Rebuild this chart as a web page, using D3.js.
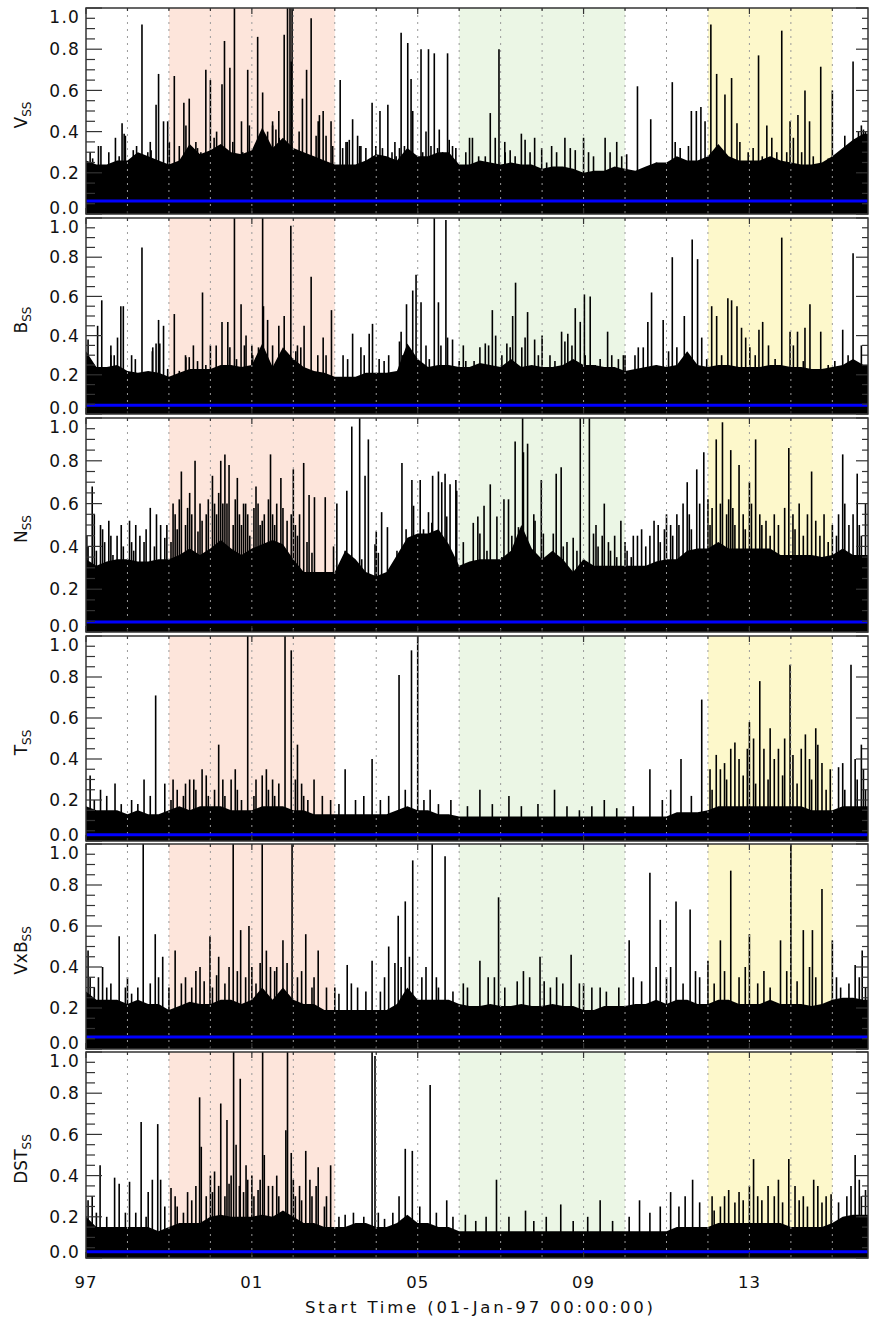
<!DOCTYPE html>
<html>
<head>
<meta charset="utf-8">
<script src="https://cdn.jsdelivr.net/npm/d3@7"></script>
<style>
body { margin: 0; background: #fff; }
text { font-family: "DejaVu Sans", sans-serif; fill: #111; }
</style>
</head>
<body>
<script>
const width = 870
const height = 1323

// time axis (decimal years)
const yearStart = 1997
const yearEnd = 2015.86
const yearLabels = ['97', '01', '05', '09', '13']
const yTicks = [0, 0.2, 0.4, 0.6, 0.8, 1.0]

// shaded phases [start, end]
const phaseRed = [1999, 2003]
const phaseGreen = [2006, 2010]
const phaseYellow = [2012, 2015]

// level of the blue line in each panel
const meanLevel = [0.063, 0.045, 0.047, 0.03, 0.058, 0.03]

// dense core of each series, one value every quarter year from 1997.0
const baseV = [0.26,0.24,0.24,0.26, 0.26,0.3,0.28,0.26, 0.24,0.26,0.34,0.29, 0.31,0.34,0.3,0.29,
  0.31,0.42,0.32,0.37, 0.32,0.3,0.28,0.26, 0.24,0.24,0.24,0.26, 0.29,0.28,0.26,0.32,
  0.28,0.28,0.3,0.3, 0.24,0.24,0.26,0.25, 0.24,0.25,0.24,0.24, 0.22,0.23,0.23,0.22,
  0.2,0.21,0.21,0.23, 0.22,0.21,0.23,0.25, 0.25,0.28,0.26,0.26, 0.28,0.34,0.28,0.26,
  0.26,0.26,0.28,0.26, 0.25,0.24,0.24,0.25, 0.28,0.32,0.36,0.39]
const baseB = [0.32,0.24,0.24,0.25, 0.22,0.21,0.22,0.21, 0.19,0.21,0.23,0.23, 0.23,0.25,0.25,0.24,
  0.25,0.36,0.24,0.34, 0.28,0.24,0.22,0.21, 0.19,0.19,0.19,0.21, 0.21,0.21,0.22,0.36,
  0.28,0.24,0.25,0.25, 0.24,0.24,0.26,0.25, 0.24,0.28,0.24,0.25, 0.24,0.24,0.25,0.28,
  0.25,0.25,0.24,0.24, 0.22,0.23,0.24,0.25, 0.24,0.25,0.32,0.25, 0.24,0.25,0.25,0.24,
  0.24,0.24,0.25,0.25, 0.24,0.24,0.23,0.23, 0.24,0.25,0.28,0.25]
const baseN = [0.34,0.31,0.33,0.34, 0.34,0.33,0.33,0.34, 0.34,0.36,0.39,0.36, 0.39,0.43,0.39,0.36,
  0.39,0.41,0.43,0.41, 0.34,0.28,0.28,0.28, 0.28,0.38,0.34,0.28, 0.26,0.28,0.36,0.44,
  0.46,0.46,0.48,0.41, 0.31,0.33,0.34,0.34, 0.34,0.38,0.5,0.39, 0.34,0.38,0.34,0.28,
  0.34,0.31,0.31,0.31, 0.31,0.31,0.31,0.33, 0.34,0.34,0.38,0.39, 0.39,0.42,0.39,0.39,
  0.39,0.39,0.39,0.36, 0.36,0.36,0.36,0.35, 0.36,0.39,0.36,0.36]
const baseT = [0.17,0.15,0.15,0.15, 0.13,0.15,0.13,0.13, 0.15,0.17,0.15,0.17, 0.17,0.17,0.15,0.15,
  0.15,0.17,0.17,0.17, 0.15,0.15,0.13,0.13, 0.13,0.13,0.13,0.13, 0.13,0.13,0.15,0.17,
  0.15,0.15,0.13,0.13, 0.12,0.12,0.12,0.12, 0.12,0.12,0.12,0.12, 0.12,0.12,0.12,0.12,
  0.12,0.12,0.12,0.12, 0.12,0.12,0.12,0.12, 0.12,0.14,0.14,0.14, 0.15,0.17,0.17,0.17,
  0.17,0.17,0.17,0.17, 0.17,0.17,0.15,0.15, 0.15,0.17,0.17,0.17]
const baseVxB = [0.28,0.24,0.24,0.24, 0.22,0.24,0.22,0.22, 0.19,0.21,0.23,0.22, 0.22,0.24,0.24,0.22,
  0.24,0.3,0.24,0.3, 0.24,0.22,0.22,0.19, 0.19,0.19,0.19,0.19, 0.19,0.19,0.22,0.3,
  0.24,0.24,0.24,0.24, 0.22,0.21,0.21,0.22, 0.21,0.21,0.22,0.21, 0.21,0.22,0.21,0.21,
  0.19,0.19,0.21,0.21, 0.21,0.22,0.22,0.24, 0.22,0.24,0.24,0.22, 0.22,0.24,0.24,0.22,
  0.22,0.22,0.24,0.22, 0.22,0.22,0.21,0.22, 0.24,0.25,0.25,0.24]
const baseDST = [0.2,0.15,0.15,0.15, 0.15,0.15,0.15,0.13, 0.15,0.17,0.17,0.17, 0.2,0.21,0.2,0.2,
  0.2,0.21,0.2,0.23, 0.2,0.17,0.17,0.15, 0.15,0.15,0.17,0.17, 0.15,0.15,0.17,0.21,
  0.17,0.17,0.15,0.15, 0.13,0.13,0.13,0.13, 0.13,0.13,0.13,0.13, 0.13,0.13,0.13,0.13,
  0.13,0.13,0.13,0.13, 0.13,0.13,0.13,0.13, 0.13,0.15,0.15,0.15, 0.15,0.17,0.17,0.17,
  0.17,0.17,0.17,0.17, 0.15,0.15,0.15,0.15, 0.17,0.2,0.21,0.21]

// tall spikes [year, value]
const spikesV = [[1997.1,0.3],[1997.3,0.33],[1997.55,0.3],[1997.87,0.44],[1997.95,0.38],[1998.35,0.92],
  [1998.55,0.35],[1998.69,0.53],[1998.75,0.68],[1998.87,0.45],[1999.13,0.67],[1999.36,0.54],[1999.49,0.56],
  [1999.65,0.35],[1999.89,0.70],[2000.0,0.65],[2000.15,0.4],[2000.28,0.63],[2000.34,0.84],[2000.47,0.71],
  [2000.58,1.0],[2000.75,0.45],[2000.9,0.70],[2001.14,0.86],[2001.26,0.59],[2001.5,0.45],[2001.65,0.5],
  [2001.78,0.87],[2001.86,1.0],[2001.92,1.0],[2001.95,0.74],[2001.97,1.0],[2002.22,0.56],[2002.32,0.70],
  [2002.43,0.95],[2002.6,0.45],[2002.72,0.5],[2002.91,0.45],[2003.13,0.65],[2003.3,0.35],[2003.43,0.46],
  [2003.6,0.33],[2003.9,0.54],[2004.09,0.5],[2004.28,0.53],[2004.45,0.35],[2004.6,0.88],[2004.76,0.83],
  [2004.84,0.655],[2004.88,0.5],[2005.08,0.80],[2005.26,0.80],[2005.4,0.78],[2005.52,0.41],[2005.72,0.78],
  [2005.76,0.36],[2006.25,0.37],[2006.75,0.49],[2006.96,0.80],[2007.1,0.35],[2007.5,0.39],[2007.82,0.37],
  [2008.55,0.37],[2009.0,0.37],[2009.52,0.37],[2009.8,0.35],[2010.3,0.62],[2010.62,0.46],[2011.14,0.64],
  [2011.6,0.5],[2011.72,0.5],[2011.83,0.52],[2011.93,0.45],[2012.07,0.92],[2012.21,0.68],[2012.41,0.58],
  [2012.57,0.66],[2012.7,0.44],[2013.22,0.77],[2013.42,0.43],[2013.78,0.89],[2013.98,0.45],[2014.17,0.48],
  [2014.34,0.60],[2014.45,0.45],[2014.72,0.715],[2015.0,0.60],[2015.3,0.38],[2015.5,0.74],[2015.7,0.43],[2015.8,0.4]]
const spikesB = [[1997.05,0.38],[1997.28,0.45],[1997.38,0.58],[1997.6,0.3],[1997.76,0.39],[1997.84,0.55],
  [1997.9,0.55],[1998.1,0.3],[1998.35,0.85],[1998.6,0.32],[1998.69,0.36],[1998.75,0.48],[1998.87,0.45],
  [1999.13,0.51],[1999.4,0.3],[1999.59,0.35],[1999.81,0.62],[2000.0,0.35],[2000.28,0.47],[2000.42,0.47],
  [2000.58,1.0],[2000.74,0.56],[2000.86,0.4],[2001.0,0.35],[2001.26,1.0],[2001.28,0.55],[2001.5,0.35],
  [2001.78,0.5],[2001.94,0.96],[2002.1,0.35],[2002.26,0.45],[2002.43,0.70],[2002.72,0.39],[2002.92,0.53],
  [2003.2,0.3],[2003.43,0.41],[2003.83,0.41],[2003.91,0.46],[2004.3,0.3],[2004.6,0.42],[2004.73,0.56],
  [2004.88,0.63],[2004.96,0.71],[2005.08,0.57],[2005.4,1.0],[2005.5,0.57],[2005.68,0.99],[2005.72,0.39],
  [2005.84,0.38],[2006.1,0.35],[2006.63,0.36],[2006.8,0.53],[2006.88,0.4],[2007.15,0.36],[2007.29,0.5],
  [2007.36,0.67],[2007.65,0.52],[2007.82,0.38],[2008.0,0.4],[2008.47,0.42],[2008.62,0.41],[2008.8,0.54],
  [2008.92,0.47],[2009.02,0.61],[2009.16,0.60],[2009.58,0.42],[2010.0,0.3],[2010.32,0.34],[2010.55,0.47],
  [2010.64,0.62],[2010.92,0.48],[2011.14,0.80],[2011.43,0.5],[2011.62,0.89],[2011.75,0.79],[2012.09,0.55],
  [2012.21,0.5],[2012.48,0.59],[2012.57,0.58],[2012.7,0.55],[2012.91,0.39],[2013.23,0.43],[2013.32,0.47],
  [2013.78,0.90],[2013.98,0.42],[2014.16,0.42],[2014.34,0.44],[2014.46,0.56],[2014.72,0.42],[2015.25,0.43],
  [2015.5,0.82],[2015.7,0.35]]
const spikesN = [[1997.15,0.68],[1997.35,0.5],[1997.55,0.52],[1997.75,0.45],[1998.05,0.52],[1998.3,0.45],
  [1998.55,0.58],[1998.8,0.5],[1999.1,0.6],[1999.3,0.75],[1999.5,0.65],[1999.63,0.8],[1999.9,0.55],
  [2000.05,0.73],[2000.25,0.8],[2000.35,0.83],[2000.45,0.78],[2000.65,0.72],[2000.85,0.6],[2001.1,0.68],
  [2001.45,0.83],[2001.7,0.72],[2002.0,0.76],[2002.25,0.79],[2002.38,0.64],[2002.51,0.63],[2002.77,0.63],
  [2003.05,0.6],[2003.29,0.66],[2003.41,0.96],[2003.6,1.0],[2003.73,0.73],[2003.81,0.9],[2004.0,0.47],
  [2004.13,0.56],[2004.27,0.49],[2004.62,0.79],[2004.72,0.48],[2004.86,0.71],[2005.06,0.71],[2005.36,0.73],
  [2005.5,0.75],[2005.66,0.74],[2005.78,0.69],[2005.92,0.71],[2006.34,0.51],[2006.45,0.54],[2006.6,0.59],
  [2006.75,0.69],[2007.08,0.62],[2007.19,0.62],[2007.35,0.89],[2007.53,1.0],[2007.55,0.84],[2007.65,0.88],[2007.8,0.55],
  [2007.98,0.71],[2008.34,0.74],[2008.46,0.77],[2008.75,0.44],[2008.92,1.0],[2009.14,1.0],[2009.24,0.46],
  [2009.5,0.6],[2009.9,0.52],[2010.3,0.45],[2010.7,0.52],[2011.0,0.55],[2011.5,0.7],[2011.73,0.76],
  [2011.9,0.84],[2012.2,0.9],[2012.35,0.98],[2012.55,0.85],[2012.75,0.78],[2013.0,0.7],[2013.15,0.9],
  [2013.95,0.86],[2014.5,0.75],[2015.25,0.83],[2015.6,0.74],[2015.8,0.6]]
const spikesT = [[1997.1,0.32],[1997.35,0.25],[1997.7,0.28],[1998.4,0.3],[1998.68,0.71],[1998.9,0.28],
  [1999.2,0.25],[1999.5,0.3],[1999.8,0.35],[2000.2,0.47],[2000.5,0.3],[2000.9,1.0],[2001.25,0.32],
  [2001.8,1.0],[2001.95,0.93],[2002.1,0.47],[2002.5,0.3],[2003.25,0.35],[2003.9,0.4],[2004.55,0.81],
  [2004.85,0.93],[2005.0,1.0],[2005.3,0.25],[2006.5,0.25],[2007.2,0.22],[2008.3,0.25],[2009.5,0.2],
  [2010.6,0.35],[2011.35,0.4],[2011.85,0.69],[2012.3,0.35],[2012.65,0.48],[2013.0,0.58],[2013.25,0.78],
  [2013.6,0.4],[2013.98,0.86],[2014.35,0.52],[2014.65,0.47],[2015.15,0.36],[2015.45,0.86],[2015.7,0.47]]
const spikesVxB = [[1997.05,0.48],[1997.4,0.4],[1997.8,0.55],[1998.38,1.0],[1998.67,0.56],[1998.85,0.45],
  [1999.15,0.48],[1999.75,0.4],[1999.99,0.55],[2000.2,0.45],[2000.55,1.0],[2000.73,0.58],[2000.93,0.6],
  [2001.25,1.0],[2001.35,0.48],[2001.75,0.53],[2001.97,1.0],[2002.3,0.56],[2002.6,0.48],[2003.3,0.41],
  [2003.9,0.43],[2004.3,0.5],[2004.53,0.65],[2004.7,0.72],[2004.88,0.92],[2005.35,1.0],[2005.66,0.94],
  [2006.5,0.43],[2006.95,0.74],[2007.95,0.45],[2008.7,0.46],[2010.1,0.53],[2010.6,0.86],[2010.85,0.63],
  [2011.23,0.72],[2011.57,0.68],[2012.0,0.43],[2012.3,0.53],[2012.55,0.87],[2013.0,0.56],[2013.75,0.53],
  [2014.0,1.0],[2014.3,0.58],[2014.52,0.58],[2014.75,0.78],[2015.0,0.53],[2015.55,0.41],[2015.72,0.48]]
const spikesDST = [[1997.15,0.3],[1997.34,0.45],[1997.69,0.39],[1997.8,0.36],[1998.05,0.37],[1998.33,0.66],
  [1998.5,0.32],[1998.6,0.38],[1998.73,0.65],[1998.8,0.38],[1999.05,0.34],[1999.74,0.78],[1999.78,0.54],
  [2000.1,0.42],[2000.25,0.75],[2000.4,0.67],[2000.45,0.36],[2000.56,1.0],[2000.62,0.55],[2000.72,0.87],
  [2000.86,0.45],[2000.9,0.38],[2001.26,1.0],[2001.3,0.5],[2001.82,0.62],[2001.86,1.0],[2001.95,0.51],
  [2002.3,0.52],[2002.6,0.44],[2002.9,0.45],[2003.25,0.21],[2003.9,1.0],[2003.97,0.98],[2004.2,0.19],
  [2004.7,0.53],[2004.87,0.52],[2005.3,0.84],[2005.7,0.28],[2006.15,0.21],[2006.9,0.38],[2007.6,0.23],
  [2008.45,0.26],[2009.4,0.28],[2010.35,0.28],[2011.1,0.32],[2011.45,0.3],[2011.63,0.38],[2012.15,0.23],
  [2012.5,0.33],[2012.85,0.28],[2013.1,0.48],[2013.95,0.48],[2014.55,0.38],[2014.97,0.31],[2015.55,0.5],
  [2015.8,0.33]]

// shorter lines rising out of the dense core [year, value]
const grassV = [[1997.16,0.27],[1997.36,0.33],[1997.48,0.22],[1997.58,0.24],[1997.71,0.37],[1997.8,0.28],
  [1997.92,0.39],[1998.04,0.25],[1998.14,0.31],[1998.22,0.33],[1998.49,0.3],[1998.57,0.31],[1998.97,0.45],
  [1999.01,0.35],[1999.25,0.33],[1999.41,0.43],[1999.57,0.3],[1999.69,0.32],[1999.77,0.3],[2000.09,0.37],
  [2000.18,0.33],[2000.54,0.35],[2000.66,0.29],[2000.78,0.3],[2000.94,0.43],[2001.06,0.29],[2001.18,0.33],
  [2001.38,0.4],[2001.5,0.43],[2001.58,0.41],[2001.66,0.37],[2002.02,0.3],[2002.14,0.4],[2002.55,0.38],
  [2002.63,0.48],[2002.79,0.38],[2002.95,0.33],[2003.19,0.32],[2003.27,0.35],[2003.35,0.36],[2003.55,0.38],
  [2003.63,0.33],[2003.75,0.32],[2003.99,0.33],[2004.15,0.32],[2004.38,0.3],[2004.48,0.28],[2004.56,0.32],
  [2004.68,0.33],[2005.12,0.3],[2005.2,0.4],[2005.32,0.33],[2005.48,0.32],[2005.6,0.3],[2005.84,0.33],
  [2005.92,0.32],[2006.16,0.3],[2006.32,0.37],[2006.47,0.28],[2006.63,0.28],[2006.87,0.37],[2007.11,0.3],
  [2007.23,0.31],[2007.35,0.28],[2007.59,0.36],[2007.71,0.3],[2007.99,0.32],[2008.11,0.25],[2008.23,0.33],
  [2008.35,0.3],[2008.68,0.32],[2008.8,0.31],[2009.12,0.3],[2009.24,0.28],[2009.64,0.3],[2009.92,0.28],
  [2010.04,0.29],[2010.44,0.22],[2010.76,0.25],[2011.0,0.24],[2011.21,0.35],[2011.33,0.32],[2011.53,0.33],
  [2012.01,0.22],[2012.33,0.3],[2012.77,0.35],[2012.97,0.3],[2013.09,0.32],[2013.31,0.28],[2013.54,0.37],
  [2013.66,0.3],[2013.9,0.3],[2014.06,0.37],[2014.26,0.3],[2014.54,0.28],[2014.9,0.27],[2015.22,0.3],
  [2015.38,0.32],[2015.63,0.4],[2015.75,0.41]]
const grassB = [[1997.16,0.25],[1997.48,0.23],[1997.6,0.35],[1997.68,0.3],[1998.05,0.21],[1998.19,0.28],
  [1998.49,0.2],[1998.61,0.34],[1998.78,0.36],[1998.97,0.23],[1999.25,0.22],[1999.41,0.29],[1999.49,0.29],
  [1999.69,0.27],[1999.89,0.25],[2000.14,0.35],[2000.47,0.34],[2000.63,0.28],[2000.82,0.35],[2001.02,0.3],
  [2001.16,0.34],[2001.38,0.48],[2001.65,0.45],[2002.06,0.32],[2002.18,0.34],[2002.59,0.3],[2002.79,0.3],
  [2003.31,0.28],[2003.63,0.34],[2003.71,0.3],[2004.07,0.28],[2004.19,0.27],[2004.56,0.37],[2004.64,0.3],
  [2005.2,0.35],[2005.28,0.28],[2005.56,0.35],[2006.0,0.27],[2006.16,0.27],[2006.36,0.27],[2006.5,0.34],
  [2006.71,0.35],[2007.03,0.3],[2007.23,0.34],[2007.51,0.34],[2007.59,0.39],[2007.91,0.3],[2008.19,0.3],
  [2008.31,0.27],[2008.55,0.37],[2008.72,0.35],[2009.04,0.3],[2009.28,0.25],[2009.4,0.28],[2009.68,0.3],
  [2009.84,0.28],[2009.96,0.3],[2010.24,0.3],[2010.44,0.34],[2010.76,0.25],[2011.05,0.32],[2011.25,0.34],
  [2011.53,0.27],[2011.85,0.39],[2011.97,0.28],[2012.33,0.3],[2012.81,0.44],[2013.01,0.34],[2013.14,0.3],
  [2013.46,0.35],[2013.62,0.28],[2013.9,0.23],[2014.06,0.35],[2014.3,0.27],[2014.54,0.2],[2014.78,0.23],
  [2014.9,0.25],[2015.06,0.27],[2015.22,0.23],[2015.38,0.3],[2015.63,0.23],[2015.75,0.25]]
const grassN = [[1997.05,0.4],[1997.25,0.38],[1997.45,0.42],[1997.65,0.36],[1997.9,0.4],[1998.15,0.38],
  [1998.4,0.42],[1998.65,0.4],[1998.9,0.44],[1999.05,0.42],[1999.2,0.48],[1999.4,0.5],[1999.7,0.47],
  [1999.8,0.52],[2000.15,0.55],[2000.55,0.5],[2000.75,0.5],[2000.95,0.45],[2001.2,0.5],[2001.3,0.55],
  [2001.55,0.5],[2001.85,0.52],[2002.1,0.45],[2002.33,0.42],[2002.45,0.37],[2002.61,0.24],[2002.69,0.23],
  [2002.97,0.4],[2003.13,0.28],[2003.25,0.38],[2003.49,0.31],[2003.65,0.34],[2003.97,0.41],[2004.05,0.37],
  [2004.38,0.22],[2004.5,0.38],[2004.74,0.32],[2004.9,0.59],[2005.14,0.48],[2005.26,0.56],[2005.34,0.51],
  [2005.58,0.7],[2005.7,0.54],[2005.94,0.66],[2006.1,0.42],[2006.3,0.32],[2006.5,0.46],[2006.67,0.38],
  [2006.91,0.54],[2007.03,0.35],[2007.27,0.45],[2007.43,0.49],[2007.83,0.52],[2008.03,0.46],[2008.15,0.31],
  [2008.27,0.46],[2008.51,0.4],[2008.6,0.42],[2008.72,0.24],[2008.84,0.38],[2009.0,0.34],[2009.35,0.4],
  [2009.65,0.38],[2009.8,0.35],[2010.05,0.38],[2010.15,0.35],[2010.5,0.4],[2010.85,0.42],[2011.15,0.45],
  [2011.3,0.5],[2011.6,0.48],[2012.05,0.5],[2012.45,0.55],[2012.65,0.5],[2012.9,0.48],[2013.3,0.5],
  [2013.5,0.45],[2013.7,0.5],[2014.1,0.48],[2014.3,0.45],[2014.7,0.45],[2014.9,0.42],[2015.1,0.45],
  [2015.4,0.5],[2015.7,0.45],
  [1997.02,0.45],[1997.2,0.55],[1997.4,0.48],[1997.6,0.45],[1997.85,0.5],[1998.1,0.42],[1998.2,0.5],
  [1998.45,0.48],[1998.7,0.55],[1998.95,0.5],[1999.15,0.55],[1999.25,0.62],[1999.45,0.58],[1999.55,0.55],
  [1999.75,0.6],[1999.95,0.62],[2000.1,0.6],[2000.2,0.65],[2000.3,0.6],[2000.4,0.6],[2000.6,0.62],
  [2000.7,0.55],[2000.8,0.6],[2000.9,0.55],[2001.05,0.58],[2001.15,0.6],[2001.25,0.52],[2001.4,0.62],
  [2001.5,0.55],[2001.6,0.6],[2001.75,0.58],[2001.95,0.55],[2002.05,0.5],[2002.15,0.55],
  [2009.3,0.5],[2009.45,0.45],[2009.6,0.42],[2009.75,0.45],[2010.0,0.42],[2010.2,0.45],[2010.4,0.48],
  [2010.6,0.45],[2010.8,0.5],[2010.95,0.48],[2011.1,0.5],[2011.25,0.55],[2011.4,0.6],[2011.55,0.55],
  [2011.8,0.6],[2012.0,0.62],[2012.1,0.58],[2012.3,0.6],[2012.5,0.62],[2012.6,0.58],[2012.85,0.55],
  [2013.05,0.6],[2013.25,0.55],[2013.4,0.52],[2013.6,0.55],[2013.85,0.58],[2014.05,0.55],[2014.2,0.6],
  [2014.4,0.55],[2014.6,0.52],[2014.8,0.55],[2015.0,0.5],[2015.15,0.55],[2015.3,0.6],[2015.5,0.55],[2015.65,0.5]]
const grassT = [[1997.2,0.2],[1997.5,0.22],[1997.85,0.18],[1998.1,0.2],[1998.25,0.18],[1998.55,0.22],
  [1999.05,0.2],[1999.35,0.22],[1999.65,0.25],[1999.95,0.22],[2000.1,0.25],[2000.35,0.22],[2000.65,0.25],
  [2000.75,0.2],[2001.05,0.22],[2001.4,0.25],[2001.55,0.22],[2001.65,0.28],[2002.25,0.22],[2002.35,0.2],
  [2002.7,0.22],[2002.9,0.2],[2003.1,0.18],[2003.5,0.2],[2003.7,0.22],[2004.1,0.2],[2004.3,0.22],
  [2004.7,0.25],[2005.15,0.2],[2005.5,0.18],[2005.8,0.2],[2006.2,0.17],[2006.8,0.18],[2007.5,0.17],
  [2007.9,0.18],[2008.6,0.17],[2008.9,0.15],[2009.2,0.17],[2009.8,0.16],[2010.2,0.17],[2010.9,0.2],
  [2011.1,0.25],[2011.6,0.22],[2012.1,0.25],[2012.45,0.3],[2012.85,0.32],[2013.15,0.28],[2013.45,0.3],
  [2013.8,0.32],[2014.15,0.28],[2014.5,0.3],[2014.85,0.25],[2015.3,0.25],[2015.6,0.3],[2015.8,0.25],
  [1999.1,0.3],[1999.4,0.28],[1999.6,0.3],[1999.9,0.32],[2000.3,0.3],[2000.6,0.35],[2001.1,0.3],
  [2001.35,0.35],[2001.5,0.3],[2002.05,0.3],[2002.2,0.28],[2012.05,0.35],[2012.2,0.42],[2012.4,0.38],
  [2012.55,0.45],[2012.75,0.4],[2012.95,0.45],[2013.1,0.5],[2013.35,0.45],[2013.5,0.55],[2013.7,0.45],
  [2013.85,0.5],[2014.05,0.42],[2014.25,0.45],[2014.45,0.4],[2014.6,0.55],[2014.75,0.38],[2014.95,0.35],
  [2015.25,0.38],[2015.55,0.4],[2015.75,0.35]]
const grassVxB = [[1997.2,0.3],[1997.3,0.35],[1997.6,0.32],[1997.95,0.3],[1998.1,0.27],[1998.25,0.3],
  [1998.55,0.32],[1999.0,0.3],[1999.3,0.32],[1999.55,0.3],[1999.85,0.33],[2000.05,0.3],[2000.35,0.32],
  [2000.85,0.35],[2001.1,0.32],[2001.45,0.4],[2001.6,0.4],[2002.1,0.35],[2002.45,0.3],[2002.8,0.3],
  [2003.1,0.27],[2003.55,0.3],[2003.75,0.28],[2004.1,0.28],[2004.6,0.4],[2004.8,0.45],[2005.1,0.35],
  [2005.5,0.3],[2005.85,0.28],[2006.2,0.3],[2006.7,0.35],[2007.1,0.3],[2007.4,0.33],[2007.7,0.35],
  [2008.2,0.3],[2008.5,0.32],[2008.9,0.32],[2009.2,0.3],[2009.55,0.28],[2009.85,0.3],[2010.4,0.33],
  [2011.0,0.35],[2011.4,0.32],[2011.8,0.35],[2012.15,0.32],[2012.75,0.35],[2013.2,0.32],[2013.5,0.3],
  [2014.15,0.33],[2014.6,0.35],[2015.2,0.3],[2015.4,0.32],[2015.65,0.35],[2015.8,0.3],
  [1997.1,0.35],[1997.5,0.3],[1998.0,0.35],[1998.75,0.35],[1999.4,0.35],[1999.65,0.38],[2000.15,0.36],
  [2000.45,0.4],[2000.65,0.38],[2001.0,0.4],[2001.2,0.42],[2001.55,0.38],[2001.85,0.42],[2002.2,0.38],
  [2002.5,0.35],[2003.0,0.3],[2003.4,0.32],[2004.2,0.35],[2004.45,0.42],[2005.2,0.4],[2005.45,0.35],
  [2006.1,0.32],[2006.85,0.35],[2007.55,0.38],[2008.05,0.33],[2008.35,0.35],[2009.0,0.32],[2009.4,0.3],
  [2010.2,0.35],[2010.75,0.4],[2011.1,0.4],[2011.7,0.38],[2012.4,0.38],[2012.9,0.4],[2013.35,0.38],
  [2013.9,0.38],[2014.45,0.4],[2015.1,0.35]]
const grassDST = [[1997.05,0.28],[1997.25,0.22],[1997.5,0.2],[1997.95,0.22],[1998.2,0.22],[1998.45,0.2],
  [1998.9,0.25],[1999.2,0.25],[1999.35,0.22],[1999.55,0.28],[1999.9,0.3],[2000.05,0.32],[2000.35,0.3],
  [2000.8,0.32],[2001.05,0.3],[2001.15,0.33],[2001.5,0.35],[2001.65,0.3],[2002.05,0.3],[2002.2,0.28],
  [2002.45,0.3],[2002.75,0.25],[2003.1,0.2],[2003.45,0.22],[2003.7,0.2],[2004.05,0.22],[2004.4,0.22],
  [2004.55,0.3],[2005.05,0.25],[2005.45,0.22],[2005.85,0.2],[2006.4,0.18],[2006.65,0.2],[2007.2,0.2],
  [2007.8,0.18],[2008.1,0.2],[2008.75,0.18],[2009.1,0.2],[2009.7,0.18],[2010.1,0.2],[2010.6,0.22],
  [2010.85,0.25],[2011.3,0.25],[2011.8,0.27],[2012.3,0.25],[2012.65,0.27],[2013.3,0.28],[2013.6,0.3],
  [2013.8,0.27],[2014.2,0.28],[2014.4,0.25],[2014.75,0.27],[2015.15,0.27],[2015.35,0.3],[2015.7,0.3],
  [1999.15,0.3],[1999.45,0.32],[1999.65,0.35],[2000.0,0.4],[2000.2,0.35],[2000.5,0.4],[2000.7,0.35],
  [2001.0,0.4],[2001.2,0.38],[2001.4,0.35],[2001.6,0.4],[2002.0,0.38],[2002.15,0.35],[2002.4,0.38],
  [2002.55,0.35],[2002.8,0.3],[2012.1,0.3],[2012.4,0.3],[2012.75,0.32],[2013.0,0.35],[2013.2,0.3],
  [2013.45,0.35],[2013.7,0.38],[2014.1,0.35],[2014.3,0.3],[2014.65,0.35],[2014.85,0.3],[2015.45,0.35],
  [2015.65,0.38]]

const colors = {
    red: '#fde5db',
    green: '#ebf6e5',
    yellow: '#fdf8cb',
    data: '#000',
    mean: '#0000ff',
    grid: '#9a9a9a',
    frame: '#333'
}

const panels = [
    {name: 'V', base: baseV, spikes: spikesV.concat(grassV), top: 8, bottom: 214},
    {name: 'B', base: baseB, spikes: spikesB.concat(grassB), top: 218, bottom: 414},
    {name: 'N', base: baseN, spikes: spikesN.concat(grassN), top: 418, bottom: 632},
    {name: 'T', base: baseT, spikes: spikesT.concat(grassT), top: 636, bottom: 841},
    {name: 'VxB', base: baseVxB, spikes: spikesVxB.concat(grassVxB), top: 844, bottom: 1049},
    {name: 'DST', base: baseDST, spikes: spikesDST.concat(grassDST), top: 1052, bottom: 1258}
]

const svg = d3.select('body')
    .append('svg')
    .attr('width', width)
    .attr('height', height)

const x = d3.scaleLinear().domain([yearStart, yearEnd]).range([86, 868])
const years = d3.range(1998, 2016)
const allYears = d3.range(1997, 2016)
const phases = [[phaseRed, colors.red], [phaseGreen, colors.green], [phaseYellow, colors.yellow]]

panels.forEach((p, i) => {
    const y = d3.scaleLinear().domain([0, 1]).range([p.bottom, p.top])
    const g = svg.append('g')

    g.append('clipPath').attr('id', 'clip' + i)
        .append('rect')
        .attr('x', x(yearStart)).attr('y', p.top)
        .attr('width', x(yearEnd) - x(yearStart)).attr('height', p.bottom - p.top)

    const plot = g.append('g').attr('clip-path', `url(#clip${i})`)

    plot.selectAll('.phase')
        .data(phases)
        .enter().append('rect')
        .attr('x', d => x(d[0][0]))
        .attr('width', d => x(d[0][1]) - x(d[0][0]))
        .attr('y', p.top)
        .attr('height', p.bottom - p.top)
        .attr('fill', d => d[1])

    const basePts = p.base.map((v, k) => [yearStart + k / 4, v])
    basePts.push([yearEnd, p.base[p.base.length - 1]])

    const area = d3.area()
        .x(d => x(d[0]))
        .y0(y(0) + 2)
        .y1(d => y(d[1]))

    plot.append('path')
        .datum(basePts)
        .attr('d', area)
        .attr('fill', colors.data)

    plot.selectAll('.spike')
        .data(p.spikes)
        .enter().append('line')
        .attr('x1', d => x(d[0])).attr('x2', d => x(d[0]))
        .attr('y1', y(0) + 2).attr('y2', d => y(d[1]))
        .attr('stroke', colors.data)
        .attr('stroke-width', 1.6)

    // dotted year lines on top of the data
    plot.selectAll('.grid')
        .data(years)
        .enter().append('line')
        .attr('x1', d => x(d)).attr('x2', d => x(d))
        .attr('y1', p.top).attr('y2', p.bottom)
        .attr('stroke', colors.grid)
        .attr('stroke-width', 1)
        .attr('stroke-dasharray', '2,5')

    plot.append('line')
        .attr('x1', x(yearStart)).attr('x2', x(yearEnd))
        .attr('y1', y(meanLevel[i])).attr('y2', y(meanLevel[i]))
        .attr('stroke', colors.mean)
        .attr('stroke-width', 3)

    // frame and ticks
    g.append('rect')
        .attr('x', x(yearStart)).attr('y', p.top)
        .attr('width', x(yearEnd) - x(yearStart)).attr('height', p.bottom - p.top)
        .attr('fill', 'none')
        .attr('stroke', colors.frame)
        .attr('stroke-width', 1.5)

    const yMinor = d3.range(0, 1.001, 0.05)
    yMinor.forEach(v => {
        const major = Math.abs(v * 5 - Math.round(v * 5)) < 1e-6
        g.append('line')
            .attr('x1', x(yearStart)).attr('x2', x(yearStart) + (major ? 16 : 9))
            .attr('y1', y(v)).attr('y2', y(v))
            .attr('stroke', colors.frame).attr('stroke-width', 1.2)
        g.append('line')
            .attr('x1', x(yearEnd)).attr('x2', x(yearEnd) - (major ? 12 : 6))
            .attr('y1', y(v)).attr('y2', y(v))
            .attr('stroke', colors.frame).attr('stroke-width', 1.2)
    })

    allYears.forEach(yr => {
        const len = (yr - 1997) % 4 === 0 ? 6 : 3
        g.append('line')
            .attr('x1', x(yr)).attr('x2', x(yr))
            .attr('y1', p.top).attr('y2', p.top + len)
            .attr('stroke', colors.frame).attr('stroke-width', 1.2)
        g.append('line')
            .attr('x1', x(yr)).attr('x2', x(yr))
            .attr('y1', p.bottom).attr('y2', p.bottom - len)
            .attr('stroke', colors.frame).attr('stroke-width', 1.2)
    })

    g.selectAll('.ylab')
        .data(yTicks)
        .enter().append('text')
        .attr('x', 80)
        .attr('y', d => Math.min(Math.max(y(d), p.top + 9), p.bottom - 6))
        .attr('dy', '0.36em')
        .attr('text-anchor', 'end')
        .attr('font-size', 17)
        .attr('letter-spacing', 1.2)
        .text(d => d.toFixed(1))

    const title = g.append('text')
        .attr('transform', `translate(27,${(p.top + p.bottom) / 2 + 4}) rotate(-90)`)
        .attr('text-anchor', 'middle')
        .attr('font-size', 17)
    title.append('tspan').text(p.name)
    title.append('tspan').attr('font-size', 12).attr('dy', 4).text('SS')
})

svg.selectAll('.xlab')
    .data(yearLabels)
    .enter().append('text')
    .attr('x', (d, k) => x(yearStart + 4 * k))
    .attr('y', 1288)
    .attr('text-anchor', 'middle')
    .attr('font-size', 16.5)
    .attr('letter-spacing', 1)
    .text(d => d)

svg.append('text')
    .attr('x', 479)
    .attr('y', 1313)
    .attr('text-anchor', 'middle')
    .attr('font-size', 16.5)
    .attr('textLength', 348)
    .attr('lengthAdjust', 'spacing')
    .text('Start Time (01-Jan-97 00:00:00)')
</script>
</body>
</html>
